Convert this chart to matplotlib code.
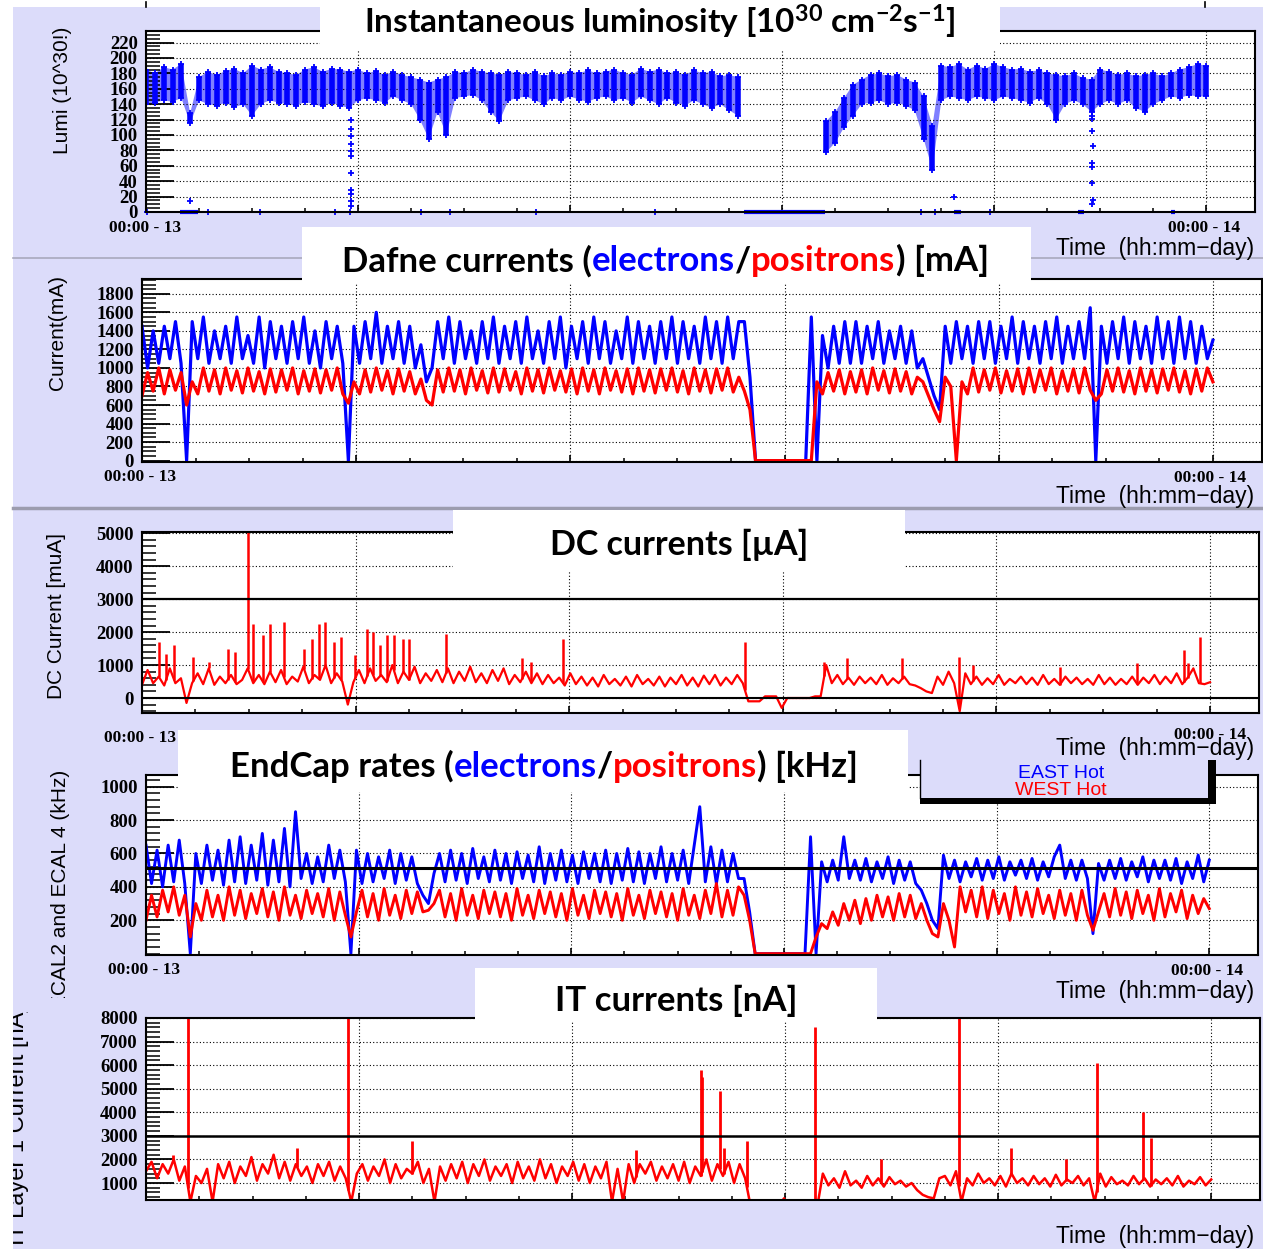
import numpy as np
import matplotlib
matplotlib.use('Agg')
import matplotlib.pyplot as plt
from matplotlib.patches import Rectangle
from matplotlib.transforms import Bbox, TransformedBbox
from matplotlib.ticker import MultipleLocator, FixedLocator, NullFormatter

plt.rcParams['font.family'] = ['Liberation Sans', 'DejaVu Sans']
plt.rcParams['mathtext.fontset'] = 'custom'
plt.rcParams['mathtext.rm'] = 'Lato:bold'
plt.rcParams['mathtext.it'] = 'Lato:bold'
plt.rcParams['mathtext.bf'] = 'Lato:bold'

W, H = 1263, 1249
LAV = '#dcdcfa'
BLUE = '#0000ff'
RED = '#ff0000'

# time axis: hours since 00:00 of day 13
x_major = [0, 4.8, 9.6, 14.4, 19.2, 24]
x_minor = [1.2 * k for k in range(21)]

# ---------------- luminosity (every 0.2 h) ----------------
nan = np.nan
lumi_t = np.linspace(0, 24, 121)
lumi_lo = [140, 142, 145, 143, 148, 115, 145, 140, 138, 142,
           136, 140, 125, 140, 145, 142, 140, 138, 143, 140,
           137, 142, 138, 135, 145, 148, 145, 142, 150, 145,
           140, 120, 95, 130, 100, 148, 150, 152, 145, 130,
           118, 145, 148, 150, 145, 140, 148, 145, 150, 146,
           143, 148, 150, 145, 148, 142, 150, 145, 140, 148,
           142, 138, 145, 140, 135, 140, 132, 125, nan, nan,
           nan, nan, nan, nan, nan, nan, nan, 78, 90, 110,
           125, 140, 142, 145, 140, 142, 138, 132, 95, 55,
           145, 150, 148, 145, 150, 148, 145, 150, 148, 145,
           142, 148, 140, 120, 140, 145, 140, 130, 140, 145,
           140, 145, 135, 130, 140, 145, 150, 148, 152, 150,
           150]
lumi_hi = [185, 180, 188, 185, 192, 128, 175, 182, 178, 183,
           186, 180, 190, 185, 188, 182, 180, 178, 185, 188,
           182, 186, 185, 182, 185, 180, 183, 178, 182, 178,
           175, 172, 168, 172, 175, 182, 180, 185, 182, 180,
           178, 182, 180, 178, 182, 176, 180, 178, 182, 180,
           184, 180, 182, 185, 180, 178, 186, 182, 185, 180,
           182, 178, 184, 180, 182, 176, 178, 175, nan, nan,
           nan, nan, nan, nan, nan, nan, nan, 118, 130, 148,
           165, 172, 178, 180, 176, 178, 172, 168, 150, 112,
           190, 188, 192, 185, 190, 186, 192, 188, 185, 186,
           182, 184, 180, 178, 176, 180, 174, 172, 185, 182,
           178, 180, 176, 178, 180, 176, 180, 185, 188, 192,
           190]
lumi_zero_t = [0.02, 1.4, 2.58, 4.28, 4.62, 6.22, 6.88, 8.82, 11.52, 17.53, 17.85, 19.1]
lumi_zero_start = [0.77, 13.53, 18.28, 21.1, 23.21]
lumi_zero_end = [1.18, 15.36, 18.44, 21.22, 23.3]
lumi_dip_t = [4.63, 4.64, 4.64, 4.65, 4.64, 4.63, 4.65, 4.64, 4.63, 4.64, 4.63,
              21.41, 21.42, 21.42, 21.43, 21.42, 21.41, 21.42, 21.43, 21.42, 1.0, 18.28]
lumi_dip_v = [120, 108, 99, 88, 79, 73, 50, 28, 24, 14, 8,
              125, 121, 105, 86, 63, 59, 38, 15, 11, 14, 20]

# ---------------- currents etc. (every 0.125 h) ----------------
t8 = np.linspace(0, 24, 193)

e_cur = [1450, 1000, 1400, 1050, 1450, 1100, 1500, 1050,
         0, 1500, 1100, 1550, 1050, 1400, 1100, 1450,
         1050, 1550, 1100, 1350, 1050, 1550, 1000, 1500,
         1100, 1450, 1050, 1500, 1100, 1550, 1050, 1400,
         1000, 1500, 1100, 1450, 1050, 0, 1450, 1050,
         1500, 1100, 1600, 1050, 1450, 1100, 1500, 1050,
         1450, 1000, 1250, 850, 1000, 1500, 1100, 1550,
         1050, 1500, 1100, 1400, 1050, 1500, 1100, 1550,
         1050, 1450, 1100, 1500, 1050, 1550, 1100, 1400,
         1050, 1500, 1100, 1550, 1000, 1450, 1100, 1500,
         1050, 1550, 1100, 1500, 1050, 1400, 1100, 1550,
         1050, 1500, 1100, 1450, 1050, 1500, 1100, 1550,
         1050, 1500, 1100, 1450, 1050, 1550, 1100, 1500,
         1050, 1550, 1100, 1500, 1500, 900, 0, 0,
         0, 0, 0, 0, 0, 0, 0, 0,
         1550, 0, 1350, 1000, 1450, 1050, 1500, 1050,
         1500, 1050, 1450, 1100, 1500, 1050, 1400, 1100,
         1450, 1050, 1400, 1000, 1100, 900, 700, 550,
         1450, 1050, 1500, 1100, 1450, 1050, 1500, 1100,
         1500, 1050, 1450, 1100, 1550, 1050, 1500, 1100,
         1450, 1050, 1500, 1100, 1550, 1050, 1450, 1100,
         1500, 1100, 1650, 0, 1450, 1050, 1500, 1100,
         1550, 1050, 1500, 1100, 1450, 1050, 1550, 1100,
         1500, 1050, 1550, 1100, 1500, 1050, 1450, 1100,
         1300]
p_cur = [700, 950, 750, 1000, 720, 980, 760, 950,
         600, 850, 720, 1000, 750, 980, 720, 1000,
         760, 970, 730, 1000, 750, 960, 720, 990,
         740, 980, 760, 1000, 720, 970, 750, 990,
         730, 980, 760, 1000, 720, 620, 850, 720,
         980, 740, 1000, 760, 970, 720, 990, 750,
         960, 720, 880, 650, 600, 980, 740, 1000,
         750, 980, 720, 1000, 760, 970, 730, 1000,
         740, 990, 760, 960, 720, 1000, 750, 980,
         730, 1000, 760, 970, 740, 990, 720, 1000,
         750, 980, 720, 1000, 760, 970, 740, 990,
         720, 1000, 750, 980, 730, 990, 760, 1000,
         740, 970, 720, 1000, 750, 980, 730, 990,
         760, 1000, 740, 900, 750, 550, 0, 0,
         0, 0, 0, 0, 0, 0, 0, 0,
         0, 850, 720, 950, 750, 980, 720, 960,
         740, 980, 720, 1000, 760, 970, 730, 990,
         750, 960, 720, 900, 850, 700, 550, 420,
         900, 800, 0, 850, 720, 1000, 740, 980,
         760, 1000, 730, 970, 750, 990, 720, 1000,
         740, 980, 760, 1000, 720, 970, 750, 990,
         730, 1000, 760, 650, 720, 980, 750, 1000,
         740, 970, 720, 1000, 750, 980, 730, 990,
         760, 1000, 740, 970, 720, 990, 750, 1000,
         850]

dc_cur = [400, 850, 450, 650, 380, 900, 450, 600,
          -150, 450, 750, 420, 900, 400, 650, 450,
          700, 420, 550, 900, 450, 700, 420, 800,
          480, 850, 420, 650, 500, 950, 450, 700,
          550, 1000, 450, 750, 500, -200, 480, 850,
          450, 900, 520, 700, 480, 1000, 450, 800,
          550, 950, 450, 750, 520, 850, 480, 900,
          450, 800, 520, 950, 480, 750, 450, 850,
          520, 900, 420, 700, 480, 800, 450, 750,
          420, 700, 450, 620, 380, 750, 420, 650,
          380, 620, 350, 700, 420, 580, 380, 650,
          350, 700, 420, 580, 380, 650, 350, 620,
          420, 700, 380, 620, 350, 680, 420, 700,
          380, 620, 420, 700, 450, -100, -100, -100,
          50, 50, 50, -300, 0, 0, 0, 0,
          0, 50, 50, 1000, 450, 700, 420, 620,
          400, 650, 450, 620, 420, 700, 400, 600,
          450, 650, 420, 380, 300, 200, 150, 650,
          400, 800, 450, -400, 750, 420, 650, 400,
          600, 420, 700, 400, 580, 450, 650, 420,
          620, 400, 700, 420, 580, 400, 650, 450,
          620, 420, 580, 400, 700, 420, 620, 400,
          580, 420, 650, 400, 620, 450, 700, 420,
          650, 450, 750, 420, 620, 900, 450, 420,
          480]
dc_spike_t = [0.38, 0.54, 0.72, 1.15, 1.5, 1.93, 2.09, 2.38, 2.49, 2.72, 2.88,
              3.19, 3.64, 3.82, 3.98, 4.11, 4.31, 4.47, 4.79,
              5.06, 5.19, 5.35, 5.51, 5.66, 5.87, 6.0, 6.83,
              8.54, 8.74, 9.46,
              13.55, 15.33, 15.84, 17.08, 18.36, 18.67, 20.63, 22.36, 23.42, 23.5, 23.78]
dc_spike_v = [1700, 1350, 1600, 1250, 1100, 1500, 1400, 5100, 2250, 1900, 2250,
              2300, 1500, 1800, 2250, 2300, 1700, 1850, 1300,
              2100, 2000, 1600, 1900, 1900, 1800, 1800, 1950,
              1200, 1100, 1800,
              1700, 1100, 1200, 1200, 1250, 1000, 950, 1050, 1450, 1050, 1850]

ec_e = [650, 420, 620, 400, 650, 430, 680, 420,
        0, 600, 420, 650, 440, 620, 410, 680,
        430, 700, 420, 650, 440, 720, 410, 680,
        430, 750, 400, 850, 450, 600, 420, 580,
        430, 650, 450, 620, 430, 0, 620, 420,
        600, 430, 580, 450, 620, 420, 600, 440,
        580, 420, 350, 300, 480, 600, 430, 620,
        440, 600, 420, 630, 450, 580, 430, 620,
        440, 600, 420, 610, 450, 590, 430, 640,
        420, 600, 440, 620, 430, 590, 420, 610,
        450, 600, 430, 620, 420, 600, 440, 630,
        430, 610, 420, 600, 450, 640, 430, 600,
        440, 620, 420, 650, 880, 430, 640, 420,
        620, 430, 600, 450, 450, 250, 0, 0,
        0, 0, 0, 0, 0, 0, 0, 0,
        700, 0, 550, 430, 560, 440, 700, 450,
        560, 440, 570, 430, 550, 450, 580, 420,
        560, 440, 550, 420, 380, 300, 200, 150,
        590, 450, 560, 430, 550, 460, 570, 440,
        560, 450, 580, 440, 550, 470, 560, 450,
        570, 440, 550, 460, 580, 650, 450, 560,
        440, 560, 450, 120, 540, 440, 560, 450,
        570, 440, 550, 460, 580, 430, 560, 450,
        560, 440, 570, 420, 550, 450, 590, 430,
        560]
ec_p = [200, 350, 220, 380, 250, 400, 230, 350,
        100, 300, 200, 380, 220, 350, 200, 400,
        230, 380, 210, 360, 240, 390, 220, 370,
        200, 400, 230, 350, 210, 380, 240, 360,
        220, 390, 200, 370, 230, 100, 250, 380,
        220, 360, 200, 390, 230, 350, 210, 380,
        240, 370, 250, 260, 300, 380, 220, 360,
        200, 390, 230, 350, 210, 380, 240, 370,
        220, 360, 200, 390, 230, 350, 210, 380,
        240, 370, 220, 360, 200, 390, 230, 350,
        210, 380, 240, 370, 220, 360, 200, 390,
        230, 350, 210, 380, 240, 370, 220, 360,
        200, 390, 230, 350, 210, 380, 240, 420,
        220, 380, 230, 400, 350, 200, 0, 0,
        0, 0, 0, 0, 0, 0, 0, 0,
        0, 100, 180, 150, 250, 170, 300, 200,
        320, 180, 330, 200, 350, 220, 340, 200,
        360, 220, 350, 210, 300, 200, 120, 100,
        300, 200, 40, 400, 250, 380, 220, 400,
        210, 380, 240, 360, 200, 400, 230, 370,
        220, 390, 240, 350, 210, 380, 230, 360,
        200, 380, 230, 140, 250, 360, 220, 390,
        230, 370, 210, 380, 240, 350, 200, 390,
        220, 360, 250, 380, 210, 350, 240, 330,
        270]

it_cur = [1500, 1900, 1200, 1800, 1400, 2000, 1100, 1700,
          200, 1300, 1000, 1600, 200, 1800, 1200, 1900,
          1000, 1700, 1300, 2100, 1100, 1800, 1400, 2200,
          1200, 1900, 1100, 1800, 1300, 1700, 1000, 1800,
          1300, 1900, 1100, 1700, 1200, 200, 1400, 1800,
          1100, 1700, 1300, 2000, 1000, 1800, 1200, 1600,
          1400, 1900, 1000, 1600, 200, 1700, 1100, 1800,
          1200, 1900, 1000, 1800, 1300, 2000, 1100, 1700,
          1300, 1800, 1000, 1900, 1200, 1700, 1100, 2000,
          1200, 1800, 1000, 1700, 1300, 1900, 1100, 1800,
          1000, 1700, 1200, 1900, 200, 1600, 200, 1800,
          1000, 1800, 1400, 1900, 1100, 1700, 1200, 1800,
          1100, 1900, 1000, 1700, 1300, 2000, 1100, 1800,
          1300, 1900, 1000, 1800, 1200, 0, 0, 0,
          0, 0, 0, 350, 0, 0, 0, 0,
          0, 0, 1400, 900, 1200, 800, 1500, 900,
          1100, 800, 1300, 900, 1200, 850, 1250, 950,
          1100, 850, 1000, 700, 500, 400, 350, 1200,
          1300, 900, 1500, 200, 1200, 900, 1400, 1000,
          1200, 900, 1300, 850, 1400, 1000, 1200, 900,
          1300, 950, 1200, 850, 1350, 900, 1150, 1000,
          1300, 900, 1200, 200, 1400, 850, 1250, 950,
          1100, 900, 1300, 950, 1200, 850, 1150, 950,
          1200, 900, 1300, 850, 1100, 950, 1250, 900,
          1150]
it_spike_t = [0.6, 0.95, 3.41, 4.56, 6.0, 11.04, 12.5, 12.53, 12.93, 13.02, 13.54,
              15.08, 16.57, 18.31, 19.5, 20.72, 21.42, 22.46, 22.64]
it_spike_v = [2200, 8000, 2500, 8000, 2800, 2400, 5800, 5500, 4900, 2500, 2800,
              7600, 2000, 8000, 2500, 2000, 6100, 4000, 2900]

# ---------------- figure ----------------
fig = plt.figure(figsize=(W / 100, H / 100), dpi=100)
fig.patch.set_facecolor('white')

bg = fig.add_axes([0, 0, 1, 1], zorder=-5)
bg.set_xlim(0, W)
bg.set_ylim(H, 0)
bg.axis('off')
bg.add_patch(Rectangle((13, 7), W - 13, H - 7, color=LAV, lw=0))
bg.plot([13, W], [258, 258], color='#a9a9bd', lw=1.2)
bg.plot([13, W], [508, 508], color='#9c9cae', lw=2.5)
bg.plot([146, 146], [2, 7], color='black', lw=1.2)
bg.plot([1205, 1205], [2, 7], color='black', lw=1.2)


def panel(x0, y0, x1, y1, ylim, yticks, yminor):
    ax = fig.add_axes([x0 / W, 1 - y1 / H, (x1 - x0) / W, (y1 - y0) / H])
    ax.set_facecolor('white')
    ax.set_xlim(0, 25.1)
    ax.set_ylim(*ylim)
    ax.xaxis.set_major_locator(FixedLocator(x_major))
    ax.xaxis.set_minor_locator(FixedLocator(x_minor))
    ax.xaxis.set_major_formatter(NullFormatter())
    ax.set_yticks(yticks, labels=[str(v) for v in yticks],
                  fontfamily='Liberation Serif', fontweight='bold', fontsize=13.5)
    ax.yaxis.set_minor_locator(MultipleLocator(yminor))
    ax.tick_params(axis='y', which='major', direction='in', length=20, width=1.3, pad=6)
    ax.tick_params(axis='y', which='minor', direction='in', length=10, width=1.1)
    ax.tick_params(axis='x', which='major', direction='in', length=5, width=1.2)
    ax.tick_params(axis='x', which='minor', direction='in', length=3, width=1.1)
    ax.grid(True, which='major', color='black', lw=0.8, ls=(0, (1, 2)))
    for s in ax.spines.values():
        s.set_linewidth(1.5)
    return ax


# luminosity
ax1 = panel(146, 31, 1255, 212, (0, 235), list(range(0, 221, 20)), 5)
ax1.fill_between(lumi_t, lumi_lo, lumi_hi, color=BLUE, alpha=0.5, lw=0)
ax1.vlines(lumi_t, lumi_lo, lumi_hi, color=BLUE, lw=4)
ax1.plot(lumi_t, lumi_lo, '+', color=BLUE, ms=5, mew=1.3)
ax1.plot(lumi_t, lumi_hi, '+', color=BLUE, ms=5, mew=1.3)
ax1.plot(lumi_zero_t, np.zeros(len(lumi_zero_t)), '+', color=BLUE, ms=5, mew=1.3, clip_on=False)
ax1.hlines(np.zeros(len(lumi_zero_start)), lumi_zero_start, lumi_zero_end, color=BLUE, lw=3, clip_on=False)
ax1.plot(lumi_dip_t, lumi_dip_v, '+', color=BLUE, ms=5, mew=1.3)

# Dafne currents
ax2 = panel(142, 279, 1262, 462, (-15, 1960), list(range(0, 1801, 200)), 50)
ax2.plot(t8, e_cur, color=BLUE, lw=2.3)
ax2.plot(t8, p_cur, color=RED, lw=2.3)

# DC currents
ax3 = panel(142, 532, 1259, 713, (-455, 5040), list(range(0, 5001, 1000)), 200)
ax3.plot(t8, dc_cur, color=RED, lw=1.6)
ax3.vlines(dc_spike_t, np.interp(dc_spike_t, t8, dc_cur), dc_spike_v, color=RED, lw=1.8)
ax3.axhline(0, color='black', lw=1.5, zorder=3)
ax3.axhline(3000, color='black', lw=1.6, zorder=3)

# EndCap rates
ax4 = panel(146, 775, 1258, 955, (-8, 1070), list(range(200, 1001, 200)), 40)
ax4.plot(t8, ec_e, color=BLUE, lw=2.1)
ax4.plot(t8, ec_p, color=RED, lw=2.1)
ax4.axhline(512, color='black', lw=2.2, zorder=3)

# IT currents
ax5 = panel(146, 1018, 1260, 1200, (280, 8000), list(range(1000, 8001, 1000)), 200)
ax5.plot(t8, it_cur, color=RED, lw=1.8)
ax5.vlines(it_spike_t, np.interp(it_spike_t, t8, it_cur), it_spike_v, color=RED, lw=2)
ax5.axhline(3000, color='black', lw=1.8, zorder=3)

# ---------------- overlay: titles, labels, legend ----------------
ov = fig.add_axes([0, 0, 1, 1], zorder=10)
ov.set_xlim(0, W)
ov.set_ylim(H, 0)
ov.axis('off')

for (bx0, by0, bx1, by1) in [(320, 0, 1000, 50), (302, 227, 1031, 283), (453, 510, 905, 571),
                             (178, 730, 908, 792), (475, 968, 877, 1021)]:
    ov.add_patch(Rectangle((bx0, by0), bx1 - bx0, by1 - by0, color='white', lw=0))


def tfont(size):
    return dict(fontfamily='Lato', fontweight='bold', fontsize=size)


def rainbow(x, y, parts, size):
    t = ov.text(x, y, parts[0][0], color=parts[0][1], ha='left', va='center', **tfont(size))
    for s, c in parts[1:]:
        t = ov.annotate(s, xy=(1, 0), xycoords=t, color=c, ha='left', va='bottom', **tfont(size))


ov.text(660, 22, r'Instantaneous luminosity [10$^{30}$ cm$^{-2}$s$^{-1}$]', ha='center', va='center', **tfont(24))
rainbow(342, 261, [('Dafne currents (', 'black'), ('electrons', BLUE), ('/', 'black'),
                   ('positrons', RED), (') [mA]', 'black')], 25)
ov.text(679, 545, 'DC currents [\u00b5A]', ha='center', va='center', **tfont(24.5))
rainbow(230, 766, [('EndCap rates (', 'black'), ('electrons', BLUE), ('/', 'black'),
                   ('positrons', RED), (') [kHz]', 'black')], 25)
ov.text(676, 1001, 'IT currents [nA]', ha='center', va='center', **tfont(25))

# legend box
ov.add_patch(Rectangle((1208, 760), 8, 44, color='black', lw=0))
ov.add_patch(Rectangle((920, 798), 296, 6, color='black', lw=0))
ov.add_patch(Rectangle((920, 760), 288, 38, facecolor=LAV, edgecolor='none'))
ov.plot([920, 920], [760, 798], color='black', lw=1)
ov.text(1061, 773, 'EAST Hot', color=BLUE, ha='center', va='center', fontsize=14)
ov.text(1061, 790, 'WEST Hot', color=RED, ha='center', va='center', fontsize=14)

# axis titles
ykw = dict(fontsize=15, rotation=90)
ov.text(63, 90, 'Lumi (10^30!)', ha='center', va='center', **ykw)
ov.text(57, 332, 'Current(mA)', ha='center', va='center', **ykw)
ov.text(56, 616, 'DC Current [muA]', ha='center', va='center', **ykw)
t4 = ov.text(61, 770, 'ECAL2 and ECAL 4 (kHz)', ha='right', va='center', rotation_mode='anchor', **ykw)
t4.set_clip_box(TransformedBbox(Bbox.from_extents(13 / W, 1 - 998 / H, 140 / W, 1 - 760 / H), fig.transFigure))
t4.set_clip_on(True)
t5 = ov.text(24, 1245, 'IT Layer 1 Current [nA]', ha='left', va='baseline', rotation_mode='anchor',
             fontsize=17, rotation=90)
t5.set_clip_box(TransformedBbox(Bbox.from_extents(13 / W, 0, 140 / W, 1 - 1012 / H), fig.transFigure))
t5.set_clip_on(True)

# time labels
dkw = dict(fontfamily='Liberation Serif', fontweight='bold', fontsize=12.5, ha='center', va='center')
for (x, y) in [(145, 228), (140, 477), (140, 738), (144, 970)]:
    ov.text(x, y, '00:00 - 13', **dkw)
for (x, y) in [(1204, 228), (1210, 478), (1210, 735), (1207, 971)]:
    ov.text(x, y, '00:00 - 14', **dkw)
for y in [248, 496, 748, 991, 1237]:
    ov.text(1254, y, 'Time  (hh:mm\u2212day)', fontsize=16.5, ha='right', va='center')

fig.savefig('out.png', dpi=100)
